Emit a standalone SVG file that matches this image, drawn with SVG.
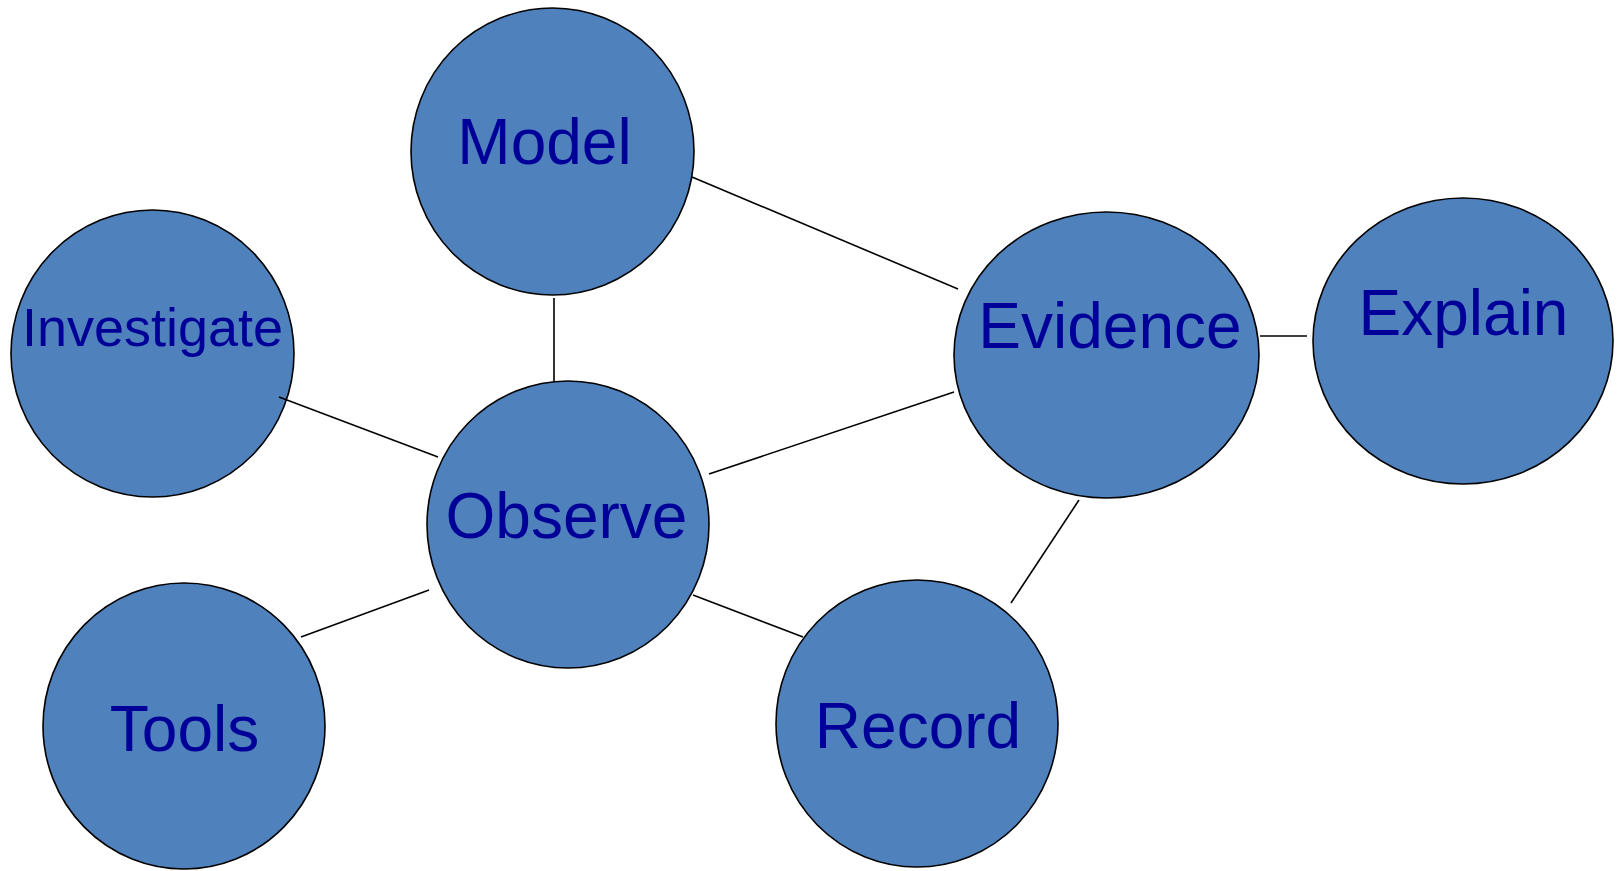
<svg xmlns="http://www.w3.org/2000/svg" width="1623" height="871" viewBox="0 0 1623 871">
<style>
.n ellipse{fill:#4F81BD;stroke:#000;stroke-width:1.6}
.n text{font-family:"Liberation Sans",Arial,sans-serif;font-size:64px;fill:#000099;text-anchor:middle}
#edges line{stroke:#000;stroke-width:1.6}
</style>
<rect width="1623" height="871" fill="#fff"/>
<g id="model" class="n"><ellipse cx="552.5" cy="151.5" rx="141.5" ry="143.5"/><text x="544.5" y="164">Model</text></g>
<g id="investigate" class="n"><ellipse cx="152.5" cy="353.5" rx="141.5" ry="143.5"/><text x="152.5" y="346" style="font-size:54px">Investigate</text></g>
<g id="observe" class="n"><ellipse cx="568" cy="524.5" rx="141" ry="143.5"/><text x="566.5" y="538">Observe</text></g>
<g id="evidence" class="n"><ellipse cx="1106.5" cy="355" rx="152.5" ry="143"/><text x="1110" y="348">Evidence</text></g>
<g id="explain" class="n"><ellipse cx="1463" cy="341" rx="150" ry="143"/><text x="1463.5" y="335">Explain</text></g>
<g id="tools" class="n"><ellipse cx="184" cy="726" rx="141" ry="143"/><text x="184.5" y="751">Tools</text></g>
<g id="record" class="n"><ellipse cx="917" cy="723.5" rx="141" ry="143.5"/><text x="918" y="748">Record</text></g>
<g id="edges">
<line x1="692" y1="177" x2="958" y2="289"/>
<line x1="554" y1="298" x2="554" y2="382"/>
<line x1="279" y1="397" x2="438" y2="457"/>
<line x1="709" y1="474" x2="954" y2="392"/>
<line x1="301" y1="637" x2="429" y2="590"/>
<line x1="693" y1="595" x2="803" y2="637"/>
<line x1="1079" y1="500" x2="1011" y2="603"/>
<line x1="1260" y1="336" x2="1307" y2="336"/>
</g>
</svg>
